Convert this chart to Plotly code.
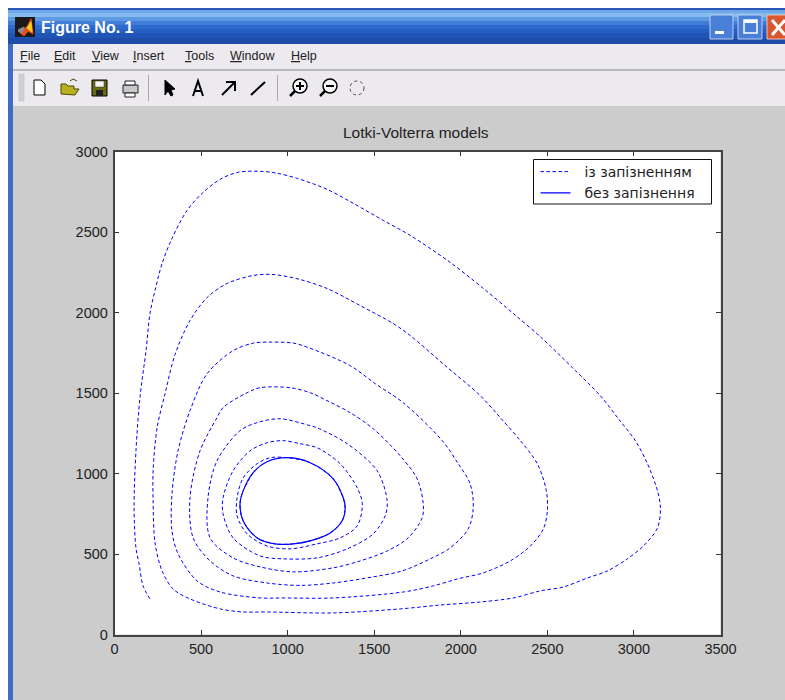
import plotly.graph_objects as go

W, H = 785, 700

# ---------- data ----------
delayed_x = [205,165,142,124,113,124,147,182,205,234,275,332,419,506,610,714,841,939,1055,1228,1379,1552,1708,1939,2124,2303,2471,2644,2806,2910,3008,3078,3136,3153,3136,3055,2962,2847,2731,2592,2459,2303,2113,1881,1650,1263,881,743,610,436,338,275,234,223,223,246,292,350,436,535,650,801,916,1072,1228,1419,1610,1708,1910,2113,2228,2344,2442,2494,2500,2477,2402,2286,2130,1980,1841,1668,1263,974,841,610,477,367,332,332,367,436,535,685,803,899,1032,1130,1361,1506,1667,1893,1985,2054,2072,2043,1939,1824,1662,1494,1263,1072,881,685,552,454,436,494,592,627,766,841,1014,1130,1228,1361,1494,1650,1748,1783,1777,1696,1575,1419,1263,1032,841,685,552,540,592,725,824,957,1130,1170,1344,1517,1575,1563,1494,1344,1170,974,841,685,627,627,685,783,881,974,1072,1170,1303,1402,1431,1402,1303,1170,1014,881,766,708,708,743,824,899,997,1130,1263,1321,1332,1315,1246,1130,1032,928,824,743,725,743,801]
delayed_y = [221,302,439,538,787,1141,1471,1763,1994,2137,2305,2460,2634,2740,2827,2871,2877,2865,2833,2765,2678,2572,2479,2311,2155,1994,1838,1658,1483,1340,1204,1061,893,787,662,550,470,395,351,295,271,227,202,183,159,134,140,140,159,221,283,395,569,830,1017,1284,1496,1740,1950,2093,2180,2230,2236,2205,2149,2043,1931,1857,1670,1483,1347,1204,1061,893,768,656,550,457,383,345,302,264,227,227,227,264,333,501,644,874,1141,1390,1620,1763,1810,1816,1810,1778,1670,1558,1440,1204,1061,936,787,656,538,470,395,358,320,305,320,364,457,600,849,1141,1347,1409,1502,1533,1533,1502,1452,1378,1278,1110,967,812,725,600,519,457,414,389,420,476,600,849,1079,1266,1316,1340,1297,1284,1185,1017,830,737,625,532,476,470,488,600,750,849,1017,1141,1191,1204,1185,1160,1061,911,812,675,600,563,532,550,625,737,849,973,1061,1098,1098,1067,967,849,787,706,631,582,563,563,600,706,812,892,1005]
cycle_x = [997,1130,1263,1321,1332,1315,1246,1130,1032,928,824,743,725,743,801,881,997]
cycle_y = [1098,1067,967,849,787,706,631,582,563,563,600,706,812,892,1005,1073,1098]
series_names = ["із запізненням", "без запізнення"]
x_ticks = [0, 500, 1000, 1500, 2000, 2500, 3000, 3500]
y_ticks = [0, 500, 1000, 1500, 2000, 2500, 3000]
chart_title = "Lotki-Volterra models"
window_title = "Figure No. 1"
menu_items = ["<u>F</u>ile", "<u>E</u>dit", "<u>V</u>iew", "<u>I</u>nsert", "<u>T</u>ools", "<u>W</u>indow", "<u>H</u>elp"]
menu_left = [18, 52, 90, 131, 183, 228, 289]

# ---------- window chrome helpers (page pixel -> paper) ----------
px = lambda x: x / W
py = lambda y: 1 - y / H
shapes = []

def rect(x0, y0, x1, y1, fill, line=None, lw=1, layer="below"):
    shapes.append(dict(type="rect", xref="paper", yref="paper", layer=layer,
                       x0=px(x0), x1=px(x1), y0=py(y0), y1=py(y1), fillcolor=fill,
                       line=dict(color=line or fill, width=lw if line else 0)))

def poly(pts, fill=None, line="#000000", lw=1, close=True):
    d = "M" + " L".join(f"{px(a):.5f},{py(b):.5f}" for a, b in pts) + (" Z" if close else "")
    shapes.append(dict(type="path", xref="paper", yref="paper", layer="below", path=d,
                       fillcolor=fill or "rgba(0,0,0,0)", line=dict(color=line, width=lw)))

def circle(cx, cy, r, fill=None, line="#000000", lw=1, dash=None):
    shapes.append(dict(type="circle", xref="paper", yref="paper", layer="below",
                       x0=px(cx - r), x1=px(cx + r), y0=py(cy - r), y1=py(cy + r),
                       fillcolor=fill or "rgba(0,0,0,0)", line=dict(color=line, width=lw, dash=dash or "solid")))

# page and window frame
rect(0, 0, W, 8, "#FFFFFF")
rect(0, 0, 8, H, "#FFFFFF")
rect(8, 8, 13, H, "#3F6CC4")
# title bar gradient
bands = [(8,10,"#2A56B8"),(10,13,"#6FA8E8"),(13,17,"#84BBEE"),(17,21,"#5E9AE2"),(21,25,"#3F7DD8"),
         (25,29,"#2E6ACB"),(29,33,"#2560C2"),(33,38,"#1F55B6"),(38,44,"#1F4CA8")]
for y0, y1, c in bands:
    rect(8, y0, W, y1, c)
# menu and tool bars
rect(13, 44, W, 69, "#ECEAEE")
rect(13, 69, W, 71, "#B9B9B9")
rect(13, 71, W, 106, "#ECEAEE")

# app icon
rect(15, 17, 35, 37, "#1A1A1A")
poly([(18,31),(27,27),(31,19),(33,34),(28,31),(24,36)], fill="#E8501A", line="#E8501A")
poly([(27,28),(31,22),(32,32)], fill="#F7D020", line="#F7D020")
poly([(18,30),(24,27),(22,33)], fill="#8090A0", line="#8090A0")

# window buttons
rect(710, 15, 733, 39, "#4A7FD8", "#BBD0F0", 1)
rect(715, 31, 724, 34, "#FFFFFF")
rect(738, 15, 762, 39, "#4A7FD8", "#BBD0F0", 1)
rect(744, 20, 757, 33, "#4A7FD8", "#FFFFFF", 1.5)
rect(744, 20, 757, 23, "#FFFFFF")
rect(767, 15, 786, 39, "#D9562F", "#F0C0B0", 1)
poly([(772,20),(785,35)], line="#FFFFFF", lw=3, close=False)
poly([(772,35),(785,20)], line="#FFFFFF", lw=3, close=False)

# toolbar gripper and separators
rect(19, 74, 21, 101, "#D8D8D8", "#B0B0B0", 0.5)
rect(22, 74, 24, 101, "#D8D8D8", "#B0B0B0", 0.5)
rect(148, 75, 149, 101, "#A8A8A8")
rect(277, 75, 278, 101, "#A8A8A8")
poly([(34,80),(41,80),(45,84),(45,95),(34,95)], fill="#FFFFFF", line="#000000")
poly([(61,94),(61,84),(66,84),(68,86),(74,86),(74,89),(79,89),(75,95)], fill="#B8B020", line="#4A4A00")
poly([(70,81),(73,79),(77,81)], line="#444400", close=False)
rect(92, 80, 107, 96, "#6A6A10", "#000000", 1)
rect(95, 81, 104, 87, "#F4F4F4", "#333333", 0.5)
rect(96, 90, 103, 96, "#202020")
rect(123, 85, 138, 93, "#C8C8C8", "#222222", 1)
rect(125, 81, 135, 85, "#FFFFFF", "#222222", 1)
rect(125, 93, 135, 97, "#FFFFFF", "#222222", 1)
poly([(165,80),(165,95),(168,91),(171,96),(173,95),(171,90),(175,89)], fill="#000000")
poly([(193,96),(198,81),(203,96)], line="#000000", lw=2, close=False)
poly([(195,91),(201,91)], line="#000000", lw=2, close=False)
poly([(222,95),(235,82)], line="#000000", lw=2, close=False)
poly([(226,82),(235,82),(235,91)], line="#000000", lw=2, close=False)
poly([(251,95),(265,82)], line="#000000", lw=2, close=False)
circle(300, 86, 7, fill="#F8F8F8", lw=1.5)
poly([(295,91),(290,96)], lw=2.5, close=False)
poly([(296,86),(304,86)], lw=2, close=False)
poly([(300,82),(300,90)], lw=2, close=False)
circle(330, 86, 7, fill="#F8F8F8", lw=1.5)
poly([(325,91),(320,96)], lw=2.5, close=False)
poly([(326,86),(334,86)], lw=2, close=False)
circle(357, 88, 7, lw=1, line="#444444", dash="dot")

# legend box (sits above the curves, under the legend entries)
rect(533.5, 159.5, 711.5, 204, "#FFFFFF", "#111111", 1, layer="above")

annotations = [
    dict(text=f"<b>{window_title}</b>", x=px(39), y=py(27), xref="paper", yref="paper", xanchor="left",
         yanchor="middle", showarrow=False, font=dict(family="Liberation Sans", size=16, color="#FFFFFF")),
]
for label, left in zip(menu_items, menu_left):
    annotations.append(dict(text=label, x=px(left), y=py(56), xref="paper", yref="paper", xanchor="left",
                            yanchor="middle", showarrow=False,
                            font=dict(family="Liberation Sans", size=12.5, color="#222222")))
annotations.append(dict(text=chart_title, x=px(416), y=py(132), xref="paper", yref="paper", xanchor="center",
                        yanchor="middle", showarrow=False,
                        font=dict(family="Liberation Sans", size=15.5, color="#222222")))

# ---------- figure ----------
fig = go.Figure()
fig.add_trace(go.Scatter(x=delayed_x, y=delayed_y, mode="lines", name="\u00a0\u00a0" + series_names[0],
                         line=dict(color="#0000FF", width=1, dash="3.5px,2.5px", shape="spline", smoothing=0.9)))
fig.add_trace(go.Scatter(x=cycle_x, y=cycle_y, mode="lines", name="\u00a0\u00a0" + series_names[1],
                         line=dict(color="#0000FF", width=1.2, shape="spline", smoothing=1)))

axis_common = dict(ticks="inside", ticklen=5, tickwidth=1, tickcolor="#333333", showline=True,
                   linecolor="#444444", linewidth=1.5, mirror="allticks", showgrid=False, zeroline=False,
                   tickfont=dict(family="Liberation Sans", size=14.5, color="#222222"))
fig.update_layout(
    width=W, height=H, margin=dict(l=0, r=0, t=0, b=0, autoexpand=False), autosize=False,
    paper_bgcolor="#CCCCCC", plot_bgcolor="#FFFFFF",
    xaxis=dict(domain=[px(114.5), px(720.5)], range=[0, 3500], tickvals=x_ticks, **axis_common),
    yaxis=dict(domain=[py(634.5), py(151.5)], range=[0, 3000], tickvals=y_ticks, ticklabelstandoff=2, **axis_common),
    shapes=shapes, annotations=annotations, showlegend=True,
    legend=dict(x=px(535.5), y=py(156), xanchor="left", yanchor="top",
                bgcolor="rgba(0,0,0,0)", borderwidth=0,
                font=dict(family="DejaVu Sans", size=14, color="#222222"),
                itemwidth=30, tracegroupgap=0),
)
fig.write_html("out.html", config=dict(displayModeBar=False),
               post_script="document.body.style.margin='0';document.body.style.background='#FFFFFF';")
